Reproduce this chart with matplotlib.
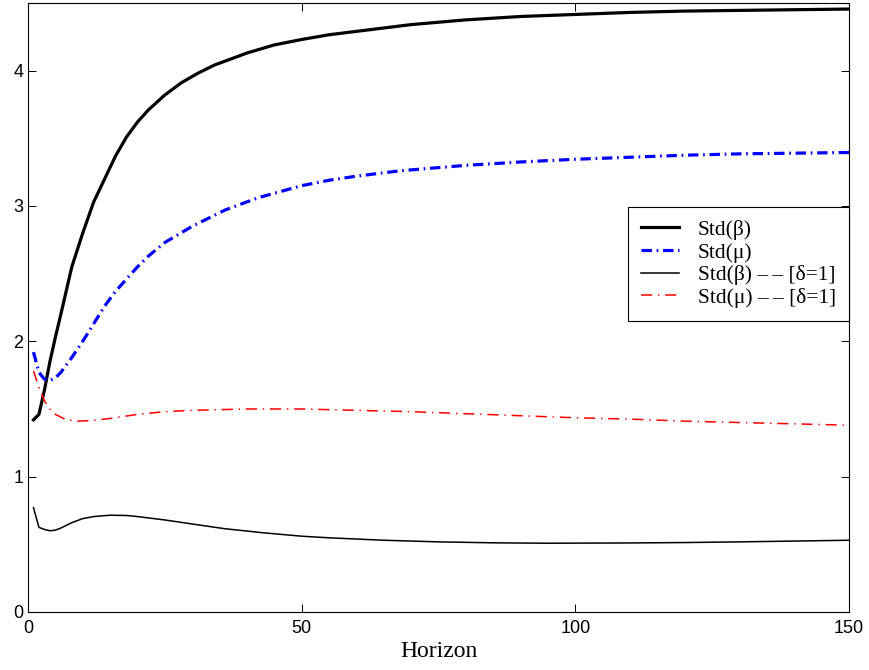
import matplotlib
matplotlib.use("Agg")
import matplotlib.pyplot as plt

# values, per series (horizon, std)
h_beta = [1, 2, 3, 4, 5, 6, 8, 10, 12, 14, 16, 18, 20, 22, 25, 28, 31, 34,
          40, 45, 50, 55, 60, 70, 80, 90, 100, 110, 120, 130, 140, 150]
std_beta = [1.42, 1.46, 1.64, 1.85, 2.03, 2.20, 2.55, 2.80, 3.03, 3.20, 3.37,
            3.51, 3.62, 3.71, 3.82, 3.91, 3.98, 4.04, 4.13, 4.19, 4.23, 4.265,
            4.29, 4.34, 4.375, 4.40, 4.415, 4.43, 4.44, 4.445, 4.45, 4.455]

h_mu = [1, 2, 3, 4, 5, 6, 8, 10, 12, 14, 16, 18, 20, 22, 25, 30, 36, 42, 50,
        55, 60, 68, 80, 90, 100, 110, 120, 130, 140, 150]
std_mu = [1.92, 1.77, 1.72, 1.71, 1.73, 1.77, 1.88, 2.00, 2.13, 2.26, 2.37,
          2.46, 2.55, 2.63, 2.73, 2.85, 2.97, 3.06, 3.15, 3.19, 3.22, 3.26,
          3.30, 3.325, 3.345, 3.36, 3.375, 3.385, 3.39, 3.395]

h_beta_d1 = [1, 2, 3, 4, 5, 6, 8, 10, 12, 15, 18, 20, 25, 30, 36, 43, 50, 55,
             65, 75, 85, 95, 110, 120, 130, 140, 150]
std_beta_d1 = [0.77, 0.625, 0.61, 0.60, 0.605, 0.62, 0.66, 0.69, 0.705, 0.715,
               0.713, 0.705, 0.68, 0.65, 0.615, 0.585, 0.56, 0.548, 0.53,
               0.518, 0.511, 0.508, 0.51, 0.513, 0.518, 0.524, 0.53]

h_mu_d1 = [1, 2, 3, 4, 5, 7, 9, 12, 15, 20, 25, 30, 40, 50, 60, 70, 80, 90,
           100, 110, 120, 130, 140, 150]
std_mu_d1 = [1.78, 1.66, 1.56, 1.50, 1.46, 1.42, 1.41, 1.415, 1.43, 1.46, 1.48,
             1.49, 1.50, 1.50, 1.49, 1.48, 1.465, 1.45, 1.435, 1.425, 1.41,
             1.40, 1.39, 1.38]

dd = "\u2013\u2009\u2013"
labels = ["Std(\u03b2)", "Std(\u03bc)",
          f"Std(\u03b2) {dd} [\u03b4=1]", f"Std(\u03bc) {dd} [\u03b4=1]"]

plt.rcParams["lines.scale_dashes"] = False

fig = plt.figure(figsize=(8.7, 6.7), dpi=100)
ax = fig.add_axes([0.0322, 0.0866, 0.9437, 0.909])

ax.plot(h_beta, std_beta, color="black", lw=2.3, label=labels[0])
ax.plot(h_mu, std_mu, color="#0000ff", lw=2.3, dashes=(7.5, 3.4, 1.2, 3.4),
        label=labels[1])
ax.plot(h_beta_d1, std_beta_d1, color="black", lw=1.1, label=labels[2])
ax.plot(h_mu_d1, std_mu_d1, color="#ff0000", lw=1.1, dashes=(8, 4.2, 1, 4.2),
        label=labels[3])

ax.set_xlim(0, 150)
ax.set_ylim(0, 4.5)
ax.set_xticks([0, 50, 100, 150])
ax.set_yticks([0, 1, 2, 3, 4])
ax.tick_params(direction="in", length=5.5, width=0.7, top=True, right=True,
               labelsize=13)
ax.tick_params(axis="x", pad=6)
ax.tick_params(axis="y", pad=3.5)
for lab in ax.get_xticklabels() + ax.get_yticklabels():
    lab.set_family("Liberation Sans")
for s in ax.spines.values():
    s.set_linewidth(0.8)

ax.set_xlabel("Horizon", family="Liberation Serif", fontsize=17, labelpad=3)

leg = ax.legend(loc="upper right", bbox_to_anchor=(1.0, 0.665),
                borderaxespad=0, fancybox=False, framealpha=1,
                edgecolor="black", handlelength=1.75, handletextpad=0.9,
                labelspacing=0.12, borderpad=0.6,
                prop={"family": "Liberation Serif", "size": 15.5})
leg.get_frame().set_linewidth(0.8)

fig.savefig("out.png", dpi=100)
